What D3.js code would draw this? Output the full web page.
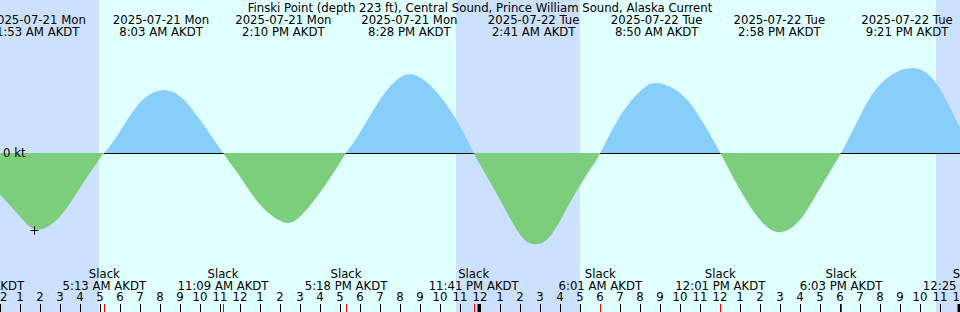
<!DOCTYPE html>
<html>
<head>
<meta charset="utf-8">
<script src="https://cdn.jsdelivr.net/npm/d3@7"></script>
<style>
body { margin: 0; background: #fff; }
svg { display: block; }
text { font-family: "DejaVu Sans", sans-serif; font-size: 11.7px; fill: #000; }
</style>
</head>
<body>
<svg id="chart"></svg>
<script>
var title = "Finski Point (depth 223 ft), Central Sound, Prince William Sound, Alaska Current";

// current speed (kt, + flood / - ebb)
var curveTimes = [
    "2025-07-21 00:00", "2025-07-21 01:00", "2025-07-21 01:53", "2025-07-21 03:00", "2025-07-21 04:00",
    "2025-07-21 05:00", "2025-07-21 05:13", "2025-07-21 06:00", "2025-07-21 07:00", "2025-07-21 08:03",
    "2025-07-21 09:00", "2025-07-21 10:00", "2025-07-21 11:09", "2025-07-21 12:00", "2025-07-21 13:00",
    "2025-07-21 14:10", "2025-07-21 15:00", "2025-07-21 16:00", "2025-07-21 17:00", "2025-07-21 17:18",
    "2025-07-21 18:00", "2025-07-21 19:00", "2025-07-21 20:28", "2025-07-21 22:00", "2025-07-21 23:00",
    "2025-07-21 23:41", "2025-07-22 00:00", "2025-07-22 01:00", "2025-07-22 02:00", "2025-07-22 02:41",
    "2025-07-22 03:30", "2025-07-22 04:30", "2025-07-22 05:30", "2025-07-22 06:01", "2025-07-22 07:00",
    "2025-07-22 08:00", "2025-07-22 08:50", "2025-07-22 10:00", "2025-07-22 11:00", "2025-07-22 12:01",
    "2025-07-22 13:00", "2025-07-22 14:00", "2025-07-22 14:58", "2025-07-22 16:00", "2025-07-22 17:00",
    "2025-07-22 18:03", "2025-07-22 19:00", "2025-07-22 20:00", "2025-07-22 21:21", "2025-07-22 22:40",
    "2025-07-23 00:00"
];
var curveKt = [
    -1.04, -1.59, -1.92, -1.59, -0.87,
    -0.13, 0, 0.54, 1.26, 1.57,
    1.42, 0.83, 0, -0.59, -1.29,
    -1.73, -1.59, -0.99, -0.24, 0,
    0.51, 1.33, 1.97, 1.42, 0.67,
    0, -0.29, -1.17, -2.04, -2.28,
    -2.09, -1.24, -0.42, 0, 0.92,
    1.54, 1.75, 1.5, 0.88, 0,
    -0.92, -1.67, -1.98, -1.67, -0.88,
    0, 0.92, 1.71, 2.11, 1.83,
    0.63
];

var extremeTimes = [
    "2025-07-21 01:53", "2025-07-21 08:03", "2025-07-21 14:10", "2025-07-21 20:28",
    "2025-07-22 02:41", "2025-07-22 08:50", "2025-07-22 14:58", "2025-07-22 21:21"
];
var slackTimes = [
    "2025-07-20 22:57", "2025-07-21 05:13", "2025-07-21 11:09", "2025-07-21 17:18", "2025-07-21 23:41",
    "2025-07-22 06:01", "2025-07-22 12:01", "2025-07-22 18:03", "2025-07-23 00:25"
];

// dark hours (sunset -> sunrise)
var nightStart = ["2025-07-20 22:48", "2025-07-21 22:48", "2025-07-22 22:48"];
var nightEnd = ["2025-07-21 04:57", "2025-07-22 05:00", "2025-07-23 05:03"];

var nowTime = "2025-07-21 01:42", nowKt = -1.93;

var width = 960, height = 312;
var parse = d3.timeParse("%Y-%m-%d %H:%M");
var fmtDate = d3.timeFormat("%Y-%m-%d %a"),
    fmtTime = d3.timeFormat("%-I:%M %p AKDT"),
    fmtHour = d3.timeFormat("%-I");

var svg = d3.select("#chart")
    .attr("width", width)
    .attr("height", height);

var x = d3.scaleTime()
    .domain([parse("2025-07-21 00:00"), parse("2025-07-23 00:00")])
    .range([0, width]);

var y = d3.scaleLinear()
    .domain([-2, 2])
    .range([233, 73]);

var zeroY = y(0);

var curve = curveTimes.map(function(t, i) {
    return { t: parse(t), v: curveKt[i] };
});

// background: day, then night bands
svg.append("rect")
    .attr("width", width)
    .attr("height", height)
    .attr("fill", "#e0ffff");

svg.selectAll(".night")
    .data(nightStart.map(function(s, i) { return [parse(s), parse(nightEnd[i])]; }))
    .enter()
    .append("rect")
    .attr("class", "night")
    .attr("x", function(d) { return x(d[0]); })
    .attr("width", function(d) { return x(d[1]) - x(d[0]); })
    .attr("y", 0)
    .attr("height", height)
    .attr("fill", "#cce0ff");

// zero line goes under the fills
svg.append("line")
    .attr("x1", 0)
    .attr("x2", width)
    .attr("y1", zeroY + 0.5)
    .attr("y2", zeroY + 0.5)
    .attr("stroke", "#000")
    .attr("stroke-width", 1);

var defs = svg.append("defs");
defs.append("clipPath").attr("id", "clip-flood")
    .append("rect").attr("x", 0).attr("y", 0).attr("width", width).attr("height", zeroY);
defs.append("clipPath").attr("id", "clip-ebb")
    .append("rect").attr("x", 0).attr("y", zeroY).attr("width", width).attr("height", height - zeroY);

var area = d3.area()
    .x(function(d) { return x(d.t); })
    .y0(zeroY)
    .y1(function(d) { return y(d.v); })
    .curve(d3.curveNatural);

svg.append("path")
    .datum(curve)
    .attr("d", area)
    .attr("fill", "#87cefa")
    .attr("clip-path", "url(#clip-flood)");

svg.append("path")
    .datum(curve)
    .attr("d", area)
    .attr("fill", "#7ccd7c")
    .attr("clip-path", "url(#clip-ebb)");

svg.append("text")
    .attr("x", 3)
    .attr("y", zeroY + 4)
    .text("0 kt");

// "+" marker
var nx = Math.round(x(parse(nowTime))) + 0.5, ny = Math.round(y(nowKt)) + 0.5;
svg.append("path")
    .attr("d", "M" + (nx - 4) + "," + ny + "H" + (nx + 4) + "M" + nx + "," + (ny - 4) + "V" + (ny + 4))
    .attr("stroke", "#000")
    .attr("stroke-width", 1);

// title
svg.append("text")
    .attr("x", width / 2)
    .attr("y", 12)
    .attr("text-anchor", "middle")
    .text(title);

// max / min labels at top
var ext = svg.selectAll(".ext")
    .data(extremeTimes.map(parse))
    .enter()
    .append("g")
    .attr("class", "ext")
    .attr("transform", function(d) { return "translate(" + x(d) + ",0)"; });
ext.append("text").attr("y", 24).attr("text-anchor", "middle").text(fmtDate);
ext.append("text").attr("y", 36).attr("text-anchor", "middle").text(fmtTime);

// slack labels at bottom
var sl = svg.selectAll(".slack")
    .data(slackTimes.map(parse))
    .enter()
    .append("g")
    .attr("class", "slack")
    .attr("transform", function(d) { return "translate(" + x(d) + ",0)"; });
sl.append("text").attr("y", 278).attr("text-anchor", "middle").text("Slack");
sl.append("text").attr("y", 290).attr("text-anchor", "middle").text(fmtTime);

// hour axis
var hours = d3.timeHour.range(x.domain()[0], d3.timeHour.offset(x.domain()[1], 1));

svg.selectAll(".hour-label")
    .data(hours)
    .enter()
    .append("text")
    .attr("class", "hour-label")
    .attr("x", function(d) { return x(d); })
    .attr("y", 301)
    .attr("text-anchor", "middle")
    .text(fmtHour);

svg.selectAll(".hour-tick")
    .data(hours)
    .enter()
    .append("line")
    .attr("class", "hour-tick")
    .attr("x1", function(d) { return x(d) + 0.5; })
    .attr("x2", function(d) { return x(d) + 0.5; })
    .attr("y1", 304)
    .attr("y2", height)
    .attr("stroke", "#000")
    .attr("stroke-width", 1);

svg.selectAll(".day-tick")
    .data(hours.filter(function(d) { return d.getHours() === 0; }))
    .enter()
    .append("line")
    .attr("class", "day-tick")
    .attr("x1", function(d) { return x(d) - 1; })
    .attr("x2", function(d) { return x(d) - 1; })
    .attr("y1", 304)
    .attr("y2", height)
    .attr("stroke", "#000")
    .attr("stroke-width", 3);

svg.selectAll(".slack-tick")
    .data(slackTimes.map(parse))
    .enter()
    .append("line")
    .attr("class", "slack-tick")
    .attr("x1", function(d) { return Math.round(x(d)) + 0.5; })
    .attr("x2", function(d) { return Math.round(x(d)) + 0.5; })
    .attr("y1", 304)
    .attr("y2", height)
    .attr("stroke", "#ff0000")
    .attr("stroke-width", 1);
</script>
</body>
</html>
